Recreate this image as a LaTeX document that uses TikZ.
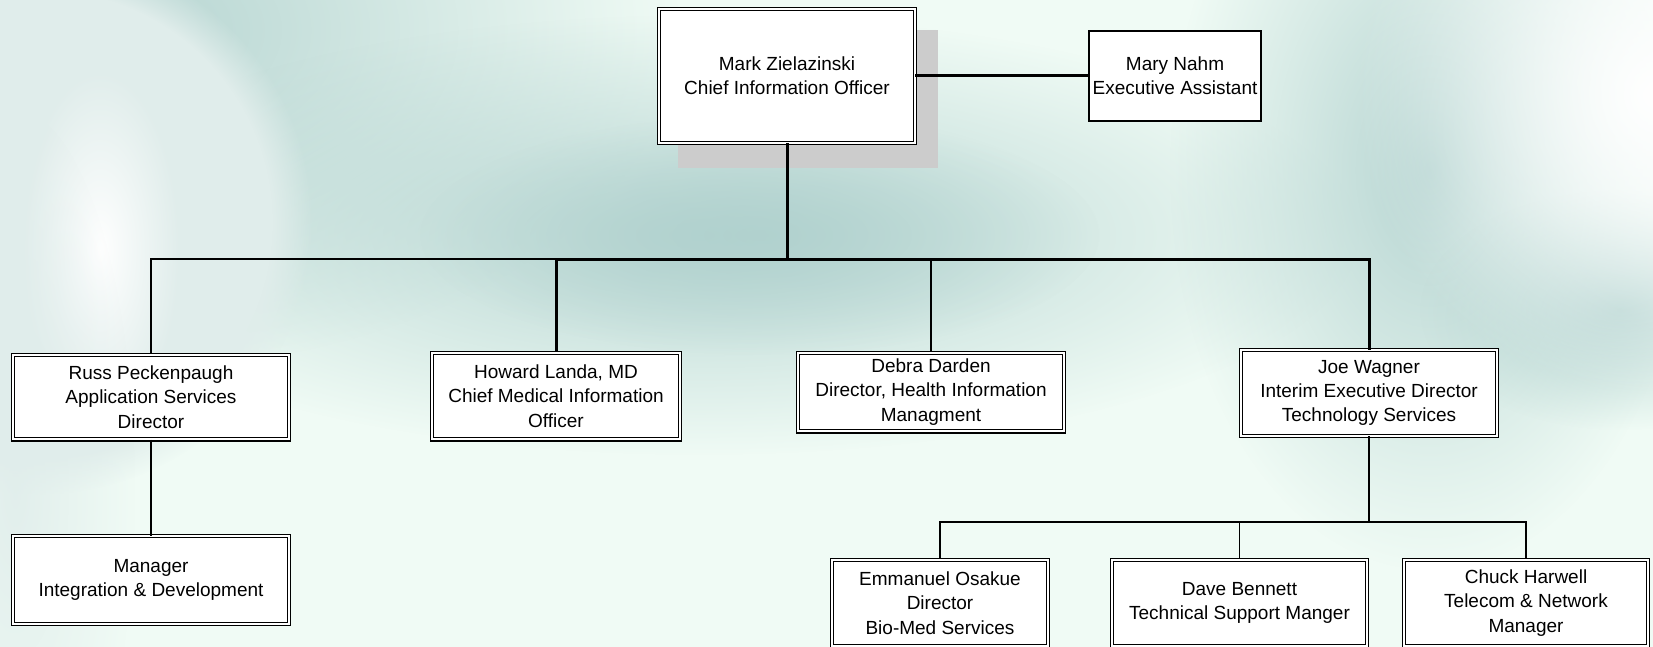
\documentclass[tikz,border=0pt]{standalone}
\usepackage{fontspec}
\setmainfont{Liberation Sans}
\usetikzlibrary{fadings}
\definecolor{bgmint}{RGB}{240,251,245}
\definecolor{haze}{RGB}{176,209,206}
\definecolor{globe}{RGB}{224,237,235}
\definecolor{shadowgray}{RGB}{204,204,204}
\tikzfading[name=softblob, inner color=transparent!10, outer color=transparent!100]
\tikzfading[name=brightblob, inner color=transparent!0, outer color=transparent!100]
\tikzset{orgbox/.style={draw=black, fill=white, double=white, double distance=1pt, line width=0.6pt,
  align=center, inner sep=0pt, font=\fontsize{9.5}{12.2}\selectfont},
plainbox/.style={draw=black, fill=white, line width=1pt, align=center, inner sep=0pt,
  font=\fontsize{9.5}{12.2}\selectfont},
heavy/.style={line width=1.5pt},
light/.style={line width=0.75pt},
blob/.style={fill=#1, path fading=softblob},
blob/.default={haze}}

\begin{document}
\begin{tikzpicture}[x=0.5pt, y=-0.5pt]

    \useasboundingbox (0,0) rectangle (1653,647);
    \fill[bgmint] (0,0) rectangle (1653,647);

    % background haze
    \fill[blob] (120,30) ellipse [x radius=280pt, y radius=170pt];
    \fill[blob] (700,235) ellipse [x radius=330pt, y radius=110pt];
    \fill[blob] (760,235) ellipse [x radius=170pt, y radius=60pt];
    \fill[blob] (1430,170) ellipse [x radius=130pt, y radius=200pt];
    \fill[blob] (1620,310) ellipse [x radius=100pt, y radius=60pt];
    \fill[white, path fading=brightblob] (1655,95) circle (150pt);
    \fill[globe, path fading=circle with fuzzy edge 15 percent] (40,222) circle (136pt);
    \fill[white, path fading=brightblob] (100,250) ellipse [x radius=40pt, y radius=90pt];
    \fill[blob=globe] (15,490) ellipse [x radius=60pt, y radius=190pt];

    % shadow behind the top box
    \fill[shadowgray] (678,30) rectangle (938,168);

    \node[orgbox, minimum width=127.8pt, minimum height=66.8pt] (cio) at (787,76)
        {Mark Zielazinski\\Chief Information Officer};
    \node[plainbox, minimum width=86pt, minimum height=45pt] (asst) at (1175,76)
        {Mary Nahm\\Executive Assistant};

    \node[orgbox, minimum width=137.8pt, minimum height=42.3pt] (appsvc) at (151,397)
        {Russ Peckenpaugh\\Application Services\\Director};
    \node[orgbox, minimum width=123.8pt, minimum height=43.3pt] (cmio) at (556,396)
        {Howard Landa, MD\\Chief Medical Information\\Officer};
    \node[orgbox, minimum width=132.8pt, minimum height=39.3pt] (him) at (931,392)
        {Debra Darden\\Director, Health Information\\Managment};
    \node[orgbox, minimum width=127.8pt, minimum height=42.8pt] (techsvc) at (1369,393)
        {Joe Wagner\\Interim Executive Director\\Technology Services};

    \node[orgbox, minimum width=137.8pt, minimum height=43.8pt] (integ) at (151,580)
        {Manager\\Integration \& Development};

    \node[orgbox, minimum width=107.8pt, minimum height=43.3pt] (biomed) at (940,603)
        {Emmanuel Osakue\\Director\\Bio-Med Services};
    \node[orgbox, minimum width=127.3pt, minimum height=43.3pt] (support) at (1239.5,603)
        {Dave Bennett\\Technical Support Manger};
    \node[orgbox, minimum width=121.8pt, minimum height=43.3pt] (telecom) at (1526,603)
        {Chuck Harwell\\Telecom \& Network\\Manager};

    \coordinate (bus) at (787,259);
    \coordinate (techbus) at (1369,522);

    \draw[light] (bus) -| (appsvc.north);
    \draw[light] (bus) -| (him.north);
    \draw[light] (appsvc.south) -- (integ.north);

    \draw[heavy] (cio.east) -- (asst.west);
    \draw[heavy] (cio.south) -- (bus);
    \draw[heavy] (bus) -| (cmio.north);
    \draw[heavy] (bus) -| (techsvc.north);

    \draw[line width=1pt] (techsvc.south) -- (techbus);
    \foreach \n in {biomed,support,telecom}
    \draw[line width=0.9pt] (techbus) -| (\n.north);

  \end{tikzpicture}
\end{document}
